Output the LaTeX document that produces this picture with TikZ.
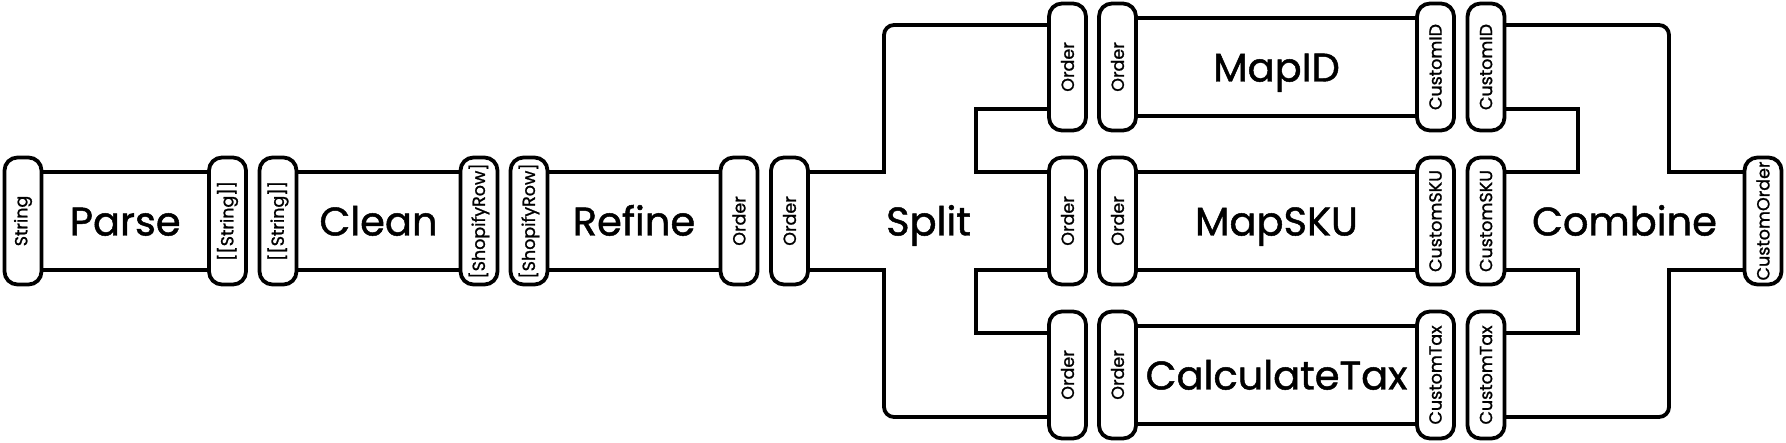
\documentclass[tikz,border=0pt]{standalone}
\usepackage{fontspec}
\setmainfont{Poppins}[RawFeature={embolden=1.2}]
\usepackage{graphicx}

\begin{document}
\begin{tikzpicture}[
	x=1pt, y=1pt,
	line width=3.8pt,
	pill/.style={draw, rounded corners=13pt,
		minimum width=37pt, minimum height=127pt,
		inner sep=0pt, outer sep=0pt,
		font=\fontsize{17.5}{18}\selectfont},
	stage/.style={minimum height=98pt,
		inner sep=0pt, outer sep=0pt,
		text height=29pt, text depth=0pt,
		font=\fontsize{40}{42}\selectfont},
	]
	\useasboundingbox (0,0) rectangle (1786,442);
	\node[pill] (string) at (23,221) {\rotatebox{90}{String}};
	\node[stage, minimum width=167.5pt] (parse) at (125.25,221) {Parse};
	\node[pill] (lstA) at (227.5,221) {\rotatebox{90}{[[String]]}};
	\node[pill] (lstB) at (278,221) {\rotatebox{90}{[[String]]}};
	\node[stage, minimum width=164pt] (clean) at (378.5,221) {Clean};
	\node[pill] (rowA) at (479,221) {\rotatebox{90}{[ShopifyRow]}};
	\node[pill] (rowB) at (529,221) {\rotatebox{90}{[ShopifyRow]}};
	\node[stage, minimum width=173pt] (refine) at (634,221) {Refine};
	\node[pill] (ordA) at (739,221) {\rotatebox{90}{Order}};
	\node[pill] (ordB) at (789.5,221) {\rotatebox{90}{Order}};
	\node[stage, minimum width=241pt] (split) at (928.5,221) {Split};
	\foreach \r/\y/\task/\out in {a/375/MapID/CustomID, b/221/MapSKU/CustomSKU, c/67/CalculateTax/CustomTax} {
		\node[pill] (in1\r) at (1067.5,\y) {\rotatebox{90}{Order}};
		\node[pill] (in2\r) at (1117.5,\y) {\rotatebox{90}{Order}};
		\node[stage, minimum width=281pt] (task\r) at (1276.5,\y) {\task};
		\node[pill] (out1\r) at (1435.5,\y) {\rotatebox{90}{\out}};
		\node[pill] (out2\r) at (1486,\y) {\rotatebox{90}{\out}};
	}
	\node[stage, minimum width=240pt] (combine) at (1624.5,221) {Combine};
	\node[pill] (result) at (1763,221) {\rotatebox{90}{CustomOrder}};

	\foreach \s in {parse, clean, refine, taska, taskb, taskc}
		\draw (\s.north west) -- (\s.north east) (\s.south west) -- (\s.south east);

	\coordinate (splitL) at (884,221);
	\coordinate (splitR) at (976,221);
	\draw (split.north west) -| ([yshift=80pt]splitL);
	\draw[rounded corners=10pt] ([yshift=42pt]in1a.west) -| ([yshift=60pt]splitL);
	\draw (split.south west) -| ([yshift=-80pt]splitL);
	\draw[rounded corners=10pt] ([yshift=-42pt]in1c.west) -| ([yshift=-60pt]splitL);
	\draw (split.north east) -- (split.north east -| splitR) |- ([yshift=-42pt]in1a.west);
	\draw (split.south east) -- (split.south east -| splitR) |- ([yshift=42pt]in1c.west);

	\coordinate (combL) at (1578,221);
	\coordinate (combR) at (1669,221);
	\draw (combine.north west) -- (combine.north west -| combL) |- ([yshift=-42pt]out2a.east);
	\draw (combine.south west) -- (combine.south west -| combL) |- ([yshift=42pt]out2c.east);
	\draw (combine.north east) -| ([yshift=80pt]combR);
	\draw[rounded corners=10pt] ([yshift=42pt]out2a.east) -| ([yshift=60pt]combR);
	\draw (combine.south east) -| ([yshift=-80pt]combR);
	\draw[rounded corners=10pt] ([yshift=-42pt]out2c.east) -| ([yshift=-60pt]combR);
\end{tikzpicture}
\end{document}
